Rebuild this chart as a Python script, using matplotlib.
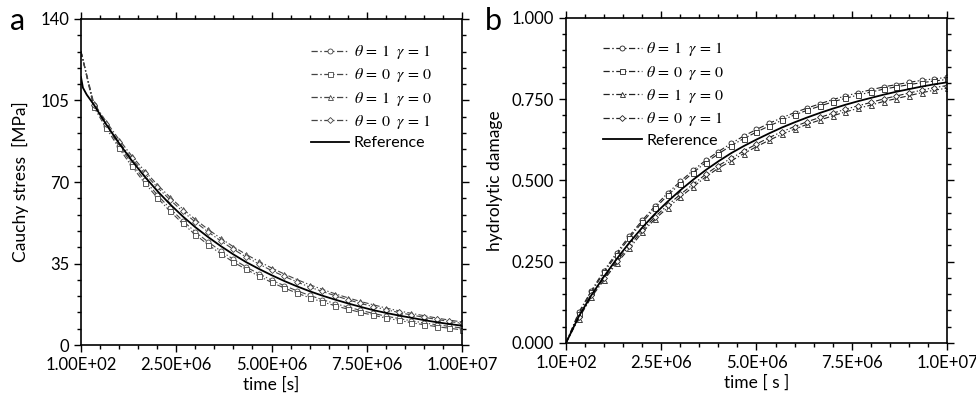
import numpy as np
import matplotlib
matplotlib.use("Agg")
import matplotlib.pyplot as plt
from matplotlib.ticker import FixedLocator, MultipleLocator, FuncFormatter

plt.rcParams.update({
    "font.family": ["Lato", "DejaVu Sans"],
    "mathtext.fontset": "stix",
    "axes.linewidth": 1.2,
})

# ── Data ─────────────────────────────────────────────────────────────────────
t_mark = np.linspace(1e7 / 30, 1e7, 30)
t0 = 100.0

labels = [r"$\theta\,=\,1\ \ \gamma\,=\,1$", r"$\theta\,=\,0\ \ \gamma\,=\,0$",
          r"$\theta\,=\,1\ \ \gamma\,=\,0$", r"$\theta\,=\,0\ \ \gamma\,=\,1$"]
markers = ["o", "s", "^", "D"]

# (a) Cauchy stress [MPa]
stress_start = 126.0
stress_11 = [103.0, 94.0, 85.6, 77.9, 70.9, 64.5, 58.7, 53.4, 48.6, 44.3, 40.4, 36.8, 33.5, 30.6, 27.9,
             25.5, 23.3, 21.3, 19.5, 17.8, 16.3, 14.9, 13.6, 12.4, 11.4, 10.4, 9.5, 8.7, 8.0, 7.3]
stress_00 = [102.2, 93.0, 84.5, 76.7, 69.7, 63.3, 57.5, 52.2, 47.4, 43.1, 39.2, 35.6, 32.5, 29.6, 26.9,
             24.5, 22.3, 20.3, 18.5, 16.9, 15.4, 14.0, 12.8, 11.6, 10.6, 9.6, 8.7, 7.9, 7.2, 6.5]
stress_10 = [104.0, 95.8, 88.2, 81.2, 74.8, 68.9, 63.5, 58.5, 53.9, 49.7, 45.8, 42.2, 38.9, 35.9, 33.1,
             30.5, 28.1, 25.9, 23.9, 22.0, 20.3, 18.7, 17.3, 15.9, 14.7, 13.6, 12.6, 11.6, 10.7, 9.9]
stress_01 = [103.2, 94.8, 87.1, 80.1, 73.7, 67.8, 62.4, 57.4, 52.8, 48.6, 44.7, 41.1, 37.8, 34.8, 32.0,
             29.5, 27.1, 24.9, 23.0, 21.2, 19.5, 17.9, 16.5, 15.2, 14.0, 12.9, 11.9, 11.0, 10.1, 9.3]
stress_ref_t = [100.0, 0.05e6, 0.15e6]
stress_ref_head = [115.0, 110.5, 107.5]
stress_ref = [103.3, 94.6, 86.6, 79.2, 72.4, 66.2, 60.5, 55.3, 50.6, 46.4, 42.5, 38.9, 35.6, 32.7, 30.0,
              27.5, 25.2, 23.1, 21.2, 19.5, 17.9, 16.4, 15.0, 13.8, 12.7, 11.7, 10.7, 9.8, 9.0, 8.3]

# (b) hydrolytic damage
dmg_start = 0.0
dmg_11 = [0.094, 0.161, 0.223, 0.278, 0.330, 0.377, 0.421, 0.461, 0.497, 0.531, 0.562, 0.589, 0.614, 0.637, 0.657,
          0.676, 0.693, 0.709, 0.723, 0.736, 0.749, 0.760, 0.770, 0.779, 0.788, 0.795, 0.802, 0.808, 0.813, 0.817]
dmg_00 = [0.090, 0.156, 0.218, 0.272, 0.324, 0.371, 0.414, 0.454, 0.490, 0.524, 0.555, 0.582, 0.607, 0.629, 0.649,
          0.668, 0.685, 0.702, 0.716, 0.729, 0.742, 0.753, 0.763, 0.772, 0.781, 0.788, 0.795, 0.801, 0.806, 0.811]
dmg_10 = [0.075, 0.141, 0.194, 0.246, 0.291, 0.340, 0.381, 0.416, 0.449, 0.480, 0.511, 0.538, 0.560, 0.583, 0.604,
          0.624, 0.642, 0.658, 0.673, 0.686, 0.699, 0.711, 0.722, 0.732, 0.743, 0.752, 0.761, 0.770, 0.778, 0.784]
dmg_01 = [0.080, 0.147, 0.200, 0.252, 0.299, 0.347, 0.388, 0.424, 0.457, 0.488, 0.519, 0.546, 0.568, 0.591, 0.612,
          0.632, 0.650, 0.666, 0.681, 0.694, 0.707, 0.719, 0.730, 0.740, 0.751, 0.760, 0.769, 0.778, 0.786, 0.792]
dmg_ref = [0.081, 0.147, 0.205, 0.259, 0.309, 0.355, 0.397, 0.435, 0.470, 0.502, 0.532, 0.559, 0.584, 0.606, 0.626,
           0.645, 0.663, 0.679, 0.694, 0.708, 0.721, 0.733, 0.744, 0.754, 0.764, 0.773, 0.781, 0.789, 0.796, 0.802]

DASHDOT = (0, (5, 2, 1.2, 2))


def draw_panel(ax, series, start, ref_t, ref_y, col):
    for vals, lab, mk in zip(series, labels, markers):
        ms = 3.6 if mk != "D" else 3.0
        x = np.concatenate([[t0], t_mark])
        y = np.concatenate([[start], vals])
        ax.plot(x, y, color=col, lw=0.8, ls=DASHDOT)
        ax.plot(t_mark, vals, ls="none", marker=mk, ms=ms,
                mfc="white", mec=col, mew=0.6)
        ax.plot([], [], color=col, lw=0.9, ls=DASHDOT, marker=mk,
                ms=ms, mfc="white", mec=col, mew=0.6, label=lab)
    ax.plot(ref_t, ref_y, color="black", lw=1.3, label="Reference")
    ax.set_xlim(t0, 1e7)
    ax.xaxis.set_major_locator(FixedLocator([t0, 2.5e6, 5e6, 7.5e6, 1e7]))
    ax.xaxis.set_minor_locator(MultipleLocator(0.5e6))
    ax.tick_params(which="both", direction="out", top=True, right=True,
                   labelsize=12, width=1.0)
    ax.tick_params(which="major", length=5)
    ax.tick_params(which="minor", length=3)


fig = plt.figure(figsize=(9.76, 3.99), dpi=100)
ax1 = fig.add_axes([0.0830, 0.1353, 0.3904, 0.8171])
ax2 = fig.add_axes([0.5799, 0.1404, 0.3904, 0.8145])

draw_panel(ax1, [stress_11, stress_00, stress_10, stress_01], stress_start,
           stress_ref_t + list(t_mark), stress_ref_head + stress_ref, "#444444")
ax1.set_ylim(0, 140)
ax1.yaxis.set_major_locator(MultipleLocator(35))
ax1.yaxis.set_minor_locator(MultipleLocator(7))
ax1.xaxis.set_major_formatter(FuncFormatter(lambda v, p: f"{v:.2E}"))
ax1.set_xlabel("time [s]", fontsize=12.5, labelpad=3)
ax1.set_ylabel("Cauchy stress  [MPa]", fontsize=12.5, labelpad=8)
ax1.legend(loc="upper right", frameon=False, fontsize=11.5, handlelength=2.4,
           labelspacing=0.33, handletextpad=0.3, bbox_to_anchor=(0.96, 0.97))

draw_panel(ax2, [dmg_11, dmg_00, dmg_10, dmg_01], dmg_start,
           [t0] + list(t_mark), [0.0] + dmg_ref, "#222222")
ax2.set_ylim(0, 1)
ax2.yaxis.set_major_locator(MultipleLocator(0.25))
ax2.yaxis.set_minor_locator(MultipleLocator(0.05))
ax2.yaxis.set_major_formatter(FuncFormatter(lambda v, p: f"{v:.3f}"))
ax2.xaxis.set_major_formatter(FuncFormatter(lambda v, p: f"{v:.1E}"))
ax2.set_xlabel("time [ s ]", fontsize=12.5, labelpad=3)
ax2.set_ylabel("hydrolytic damage", fontsize=12.5, labelpad=6)
ax2.legend(loc="upper left", frameon=False, fontsize=11.5, handlelength=2.4,
           labelspacing=0.33, handletextpad=0.3, bbox_to_anchor=(0.06, 0.975))

fig.text(0.010, 0.925, "a", fontsize=22)
fig.text(0.497, 0.925, "b", fontsize=22)

fig.savefig("out.png", dpi=100)
